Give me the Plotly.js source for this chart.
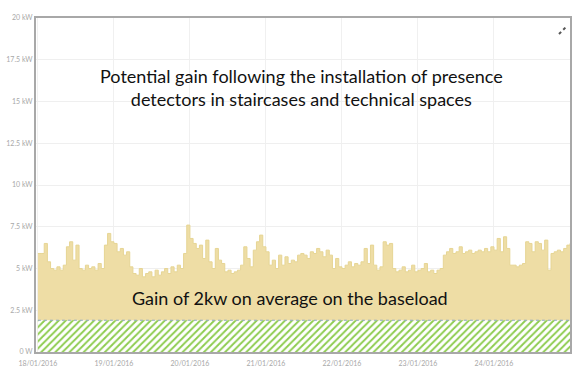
<!DOCTYPE html>
<html>
<head>
<meta charset="utf-8">
<script src="https://cdn.plot.ly/plotly-3.0.1.min.js"></script>
<style>html,body{margin:0;padding:0;background:#fff;}#chart{width:583px;height:379px;}</style>
</head>
<body>
<div id="chart"></div>
<script>
// Hourly power (kW) starting 18/01/2016 00:00
const startDate = '2016-01-18T00:00:00';
const powerKW = [
  5.9,5.9,6.5,5.4,5.0,4.9,5.1,4.9,5.2,6.3,6.6,5.5,6.4,5.0,4.9,5.2,5.0,5.1,4.9,5.3,5.0,6.4,7.1,6.6,
  6.5,6.0,6.2,5.8,6.0,5.1,4.7,4.6,5.0,4.5,4.7,4.8,4.5,4.9,4.6,4.8,5.0,4.7,5.1,4.8,5.2,5.0,5.9,7.6,
  6.8,6.5,6.2,6.4,5.6,6.7,5.4,5.0,6.2,5.5,5.3,4.8,4.9,4.7,4.8,4.9,5.2,6.3,5.6,5.1,6.1,6.6,7.0,6.3,
  6.0,5.2,5.5,5.0,5.8,5.2,5.7,5.3,5.5,5.4,5.8,5.9,5.8,5.6,6.0,5.9,6.2,6.0,5.7,6.1,5.8,5.0,5.6,5.1,
  5.0,5.2,5.4,5.1,5.3,5.2,5.4,6.2,5.3,6.4,5.2,4.9,5.1,6.6,6.4,6.5,5.0,4.8,4.9,5.1,4.8,4.9,5.2,4.8,
  4.9,5.0,5.3,4.8,4.9,4.7,4.9,5.0,5.8,6.0,6.2,5.9,6.0,6.3,5.9,6.0,6.1,5.9,6.0,6.1,6.0,6.2,6.0,6.3,
  6.1,6.8,6.0,6.9,6.2,5.2,5.2,5.1,5.2,5.3,6.6,6.5,6.0,6.6,6.5,6.1,6.7,4.9,5.9,6.0,6.1,6.0,6.2,6.4,
  6.5
];
const baseloadDates = ['2016-01-18T00:00:00', '2016-01-25T00:00:00'];
const baseloadKW = [1.9, 1.9];
const yTickVals = [0, 2.5, 5, 7.5, 10, 12.5, 15, 17.5, 20];
const yTickText = ['0 W', '2.5 kW', '5 kW', '7.5 kW', '10 kW', '12.5 kW', '15 kW', '17.5 kW', '20 kW'];
const xTickVals = ['2016-01-18','2016-01-19','2016-01-20','2016-01-21','2016-01-22','2016-01-23','2016-01-24'];
const titleText = 'Potential gain following the installation of presence<br>detectors in staircases and technical spaces';
const gainText = 'Gain of 2kw on average on the baseload';

const t0 = new Date(startDate + 'Z').getTime();
const times = powerKW.map((_, i) => new Date(t0 + i * 3600000).toISOString().slice(0, 19));

const traces = [
  {
    x: times, y: powerKW, type: 'scatter', mode: 'lines',
    line: {color: '#e6d594', width: 1, shape: 'hv'},
    fill: 'tozeroy', fillcolor: '#eedda5', hoverinfo: 'skip'
  },
  {
    x: baseloadDates, y: baseloadKW, type: 'scatter', mode: 'lines',
    line: {color: '#8fa9c4', width: 1.2, dash: 'dot'},
    fill: 'tozeroy', fillcolor: 'rgba(0,0,0,0)',
    fillpattern: {shape: '/', fgcolor: '#8dcc4e', bgcolor: '#ffffff', size: 5, solidity: 0.38},
    hoverinfo: 'skip'
  }
];

const px = x => (x - 36) / 534;
const py = y => (352 - y) / 334;

const layout = {
  width: 583, height: 379,
  margin: {l: 36, r: 13, t: 18, b: 27},
  paper_bgcolor: '#ffffff', plot_bgcolor: '#ffffff',
  showlegend: false,
  font: {family: 'Lato, sans-serif'},
  xaxis: {
    type: 'date',
    range: ['2016-01-17T23:24:00', '2016-01-25T00:00:00'],
    tickvals: xTickVals,
    tickformat: '%d/%m/%Y',
    tickfont: {size: 7, color: '#a8a8a8'},
    showgrid: true, gridcolor: '#f0f0f0', gridwidth: 1,
    showline: true, linecolor: '#a8a8a8', linewidth: 2, mirror: true,
    ticks: '', zeroline: false, ticklabelstandoff: 4
  },
  yaxis: {
    range: [0, 20],
    tickvals: yTickVals, ticktext: yTickText,
    tickfont: {size: 7, color: '#a8a8a8'},
    showgrid: true, gridcolor: '#efefef', gridwidth: 1,
    showline: true, linecolor: '#a8a8a8', linewidth: 2, mirror: true,
    ticks: '', zeroline: false
  },
  annotations: [
    {xref: 'paper', yref: 'paper', x: px(301), y: py(87), xanchor: 'center', yanchor: 'middle',
     text: titleText, showarrow: false,
     font: {size: 18, color: '#111111', family: 'Lato, sans-serif'}, align: 'center'},
    {xref: 'paper', yref: 'paper', x: px(290), y: py(298), xanchor: 'center', yanchor: 'middle',
     text: gainText, showarrow: false,
     font: {size: 18, color: '#111111', family: 'Lato, sans-serif'}, align: 'center'}
  ],
  shapes: [
    {type: 'line', xref: 'paper', yref: 'paper', x0: px(559), y0: py(34), x1: px(566), y1: py(27),
     line: {color: '#555555', width: 2, dash: 'dot'}}
  ]
};

Plotly.newPlot('chart', traces, layout, {displayModeBar: false, staticPlot: true});
</script>
</body>
</html>
